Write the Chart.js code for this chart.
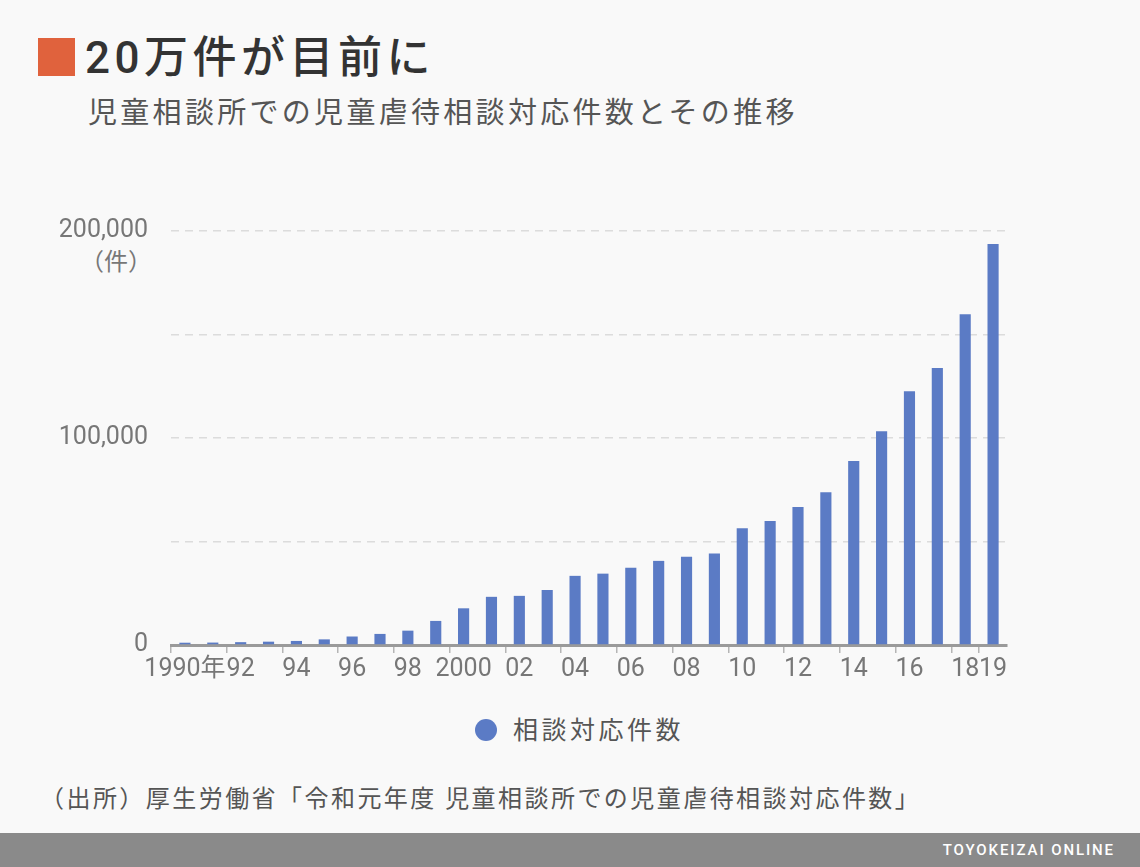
<!DOCTYPE html>
<html lang="ja">

<head>
    <meta charset="UTF-8">
    <title>児童虐待相談対応件数</title>
    <script src="https://cdn.jsdelivr.net/npm/chart.js@4.4.1/dist/chart.umd.min.js"></script>
    <style>
        body {
            margin: 0;
            width: 1140px;
            height: 867px;
            background: #f9f9f9;
            font-family: Roboto, "Noto Sans CJK JP", sans-serif;
            position: relative;
            overflow: hidden;
        }

        .mark {
            position: absolute;
            left: 38px;
            top: 38px;
            width: 37px;
            height: 38px;
            background: #e0623d;
        }

        .title {
            position: absolute;
            left: 85px;
            top: 35px;
            font-size: 44px;
            line-height: 46px;
            letter-spacing: 4.5px;
            font-weight: 500;
            color: #333;
        }

        .subtitle {
            position: absolute;
            left: 88px;
            top: 96px;
            font-size: 29px;
            line-height: 34px;
            letter-spacing: 3.3px;
            color: #555;
        }

        .unit {
            position: absolute;
            left: 0;
            width: 152px;
            top: 248px;
            text-align: right;
            font-size: 24px;
            line-height: 28px;
            color: #777;
        }

        .legend {
            position: absolute;
            left: 475px;
            top: 716px;
            font-size: 25px;
            line-height: 30px;
            letter-spacing: 3.5px;
            color: #555;
        }

        .legend span {
            display: inline-block;
            width: 22px;
            height: 22px;
            border-radius: 50%;
            background: #5b7bc5;
            margin-right: 16px;
            vertical-align: -2px;
        }

        .source {
            position: absolute;
            left: 40px;
            top: 784px;
            font-size: 24px;
            line-height: 30px;
            letter-spacing: 2.45px;
            color: #555;
        }

        .footer {
            position: absolute;
            left: 0;
            top: 833px;
            width: 1140px;
            height: 34px;
            background: #8a8a8a;
        }

        .footer div {
            position: absolute;
            right: 25px;
            top: 8px;
            font-size: 15px;
            line-height: 18px;
            letter-spacing: 1.9px;
            font-weight: 500;
            color: #fff;
        }

        #chart {
            position: absolute;
            left: 0;
            top: 193px;
        }
    </style>
</head>

<body>
    <div class="mark"></div>
    <div class="title">20万件が目前に</div>
    <div class="subtitle">児童相談所での児童虐待相談対応件数とその推移</div>
    <div class="unit">（件）</div>
    <canvas id="chart" width="1140" height="507"></canvas>
    <div class="legend"><span></span>相談対応件数</div>
    <div class="source">（出所）厚生労働省「令和元年度 児童相談所での児童虐待相談対応件数」</div>
    <div class="footer">
        <div>TOYOKEIZAI ONLINE</div>
    </div>

    <script>
        // 1990〜2019年度
        var years = ['1990年', '', '92', '', '94', '', '96', '', '98', '', '2000', '', '02', '', '04', '', '06', '', '08', '', '10', '', '12', '', '14', '', '16', '', '18', '19'];
        var counts = [1101, 1171, 1372, 1611, 1961, 2722, 4102, 5352, 6932, 11631, 17725, 23274, 23738, 26569, 33408, 34472, 37323, 40639, 42664, 44211, 56384, 59919, 66701, 73802, 88931, 103286, 122575, 133778, 159838, 193780];
        var yLabels = [0, 100000, 200000];

        var ctx = document.getElementById('chart').getContext('2d');
        var chart = new Chart(ctx, {
            type: 'bar',
            data: {
                labels: years,
                datasets: [{
                    label: '相談対応件数',
                    data: counts,
                    backgroundColor: '#5b7bc5',
                    barPercentage: 0.4,
                    categoryPercentage: 1
                }]
            },
            options: {
                responsive: false,
                devicePixelRatio: 1,
                animation: false,
                layout: {
                    padding: { left: 0, right: 133, top: 28, bottom: 10 }
                },
                plugins: {
                    legend: { display: false },
                    tooltip: { enabled: false }
                },
                scales: {
                    x: {
                        afterFit: function (axis) { axis.height = 45; },
                        border: { color: '#9a9a9a', width: 3 },
                        grid: {
                            drawOnChartArea: false,
                            tickLength: 8,
                            lineWidth: 1.5,
                            color: function (c) { return years[c.index] ? '#b5b5b5' : 'transparent'; }
                        },
                        ticks: {
                            autoSkip: false,
                            maxRotation: 0,
                            padding: 2,
                            color: '#777',
                            font: { family: 'Roboto, "Noto Sans CJK JP"', size: 25 }
                        }
                    },
                    y: {
                        min: 0,
                        max: 200000,
                        afterFit: function (axis) { axis.width = 171; },
                        border: { display: false, dash: [8, 6] },
                        grid: {
                            drawTicks: false,
                            lineWidth: 1.5,
                            color: function (c) { return c.tick && c.tick.value === 0 ? 'transparent' : '#dcdcdc'; }
                        },
                        ticks: {
                            stepSize: 50000,
                            padding: 23,
                            color: '#777',
                            font: { family: 'Roboto', size: 25 },
                            callback: function (v) {
                                return yLabels.indexOf(v) >= 0 ? v.toLocaleString('en-US') : '';
                            }
                        }
                    }
                }
            }
        });
    </script>
</body>

</html>
